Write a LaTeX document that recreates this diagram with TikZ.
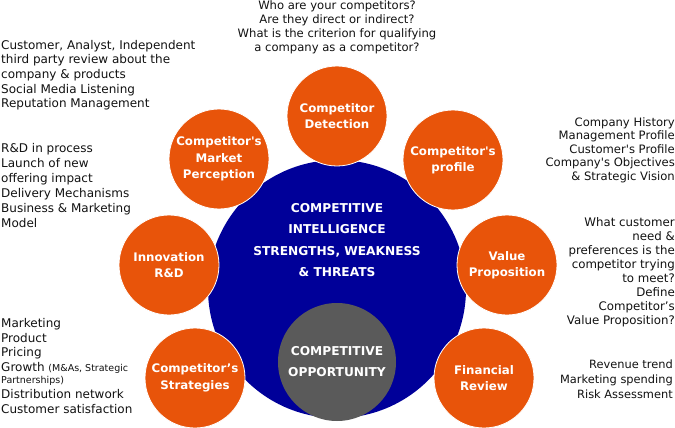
\documentclass[tikz,border=0pt]{standalone}
\usepackage{fontspec}
\setmainfont{DejaVu Sans}[Ligatures=TeXOff]
\definecolor{corange}{HTML}{E8540A}
\definecolor{cblue}{HTML}{000099}
\definecolor{cgray}{HTML}{5A5A5A}
\definecolor{ctext}{HTML}{111111}
\begin{document}
\begin{tikzpicture}[x=1pt,y=-1pt,
  orb/.style={circle, fill=corange, draw=white, line width=0.8pt, minimum size=100pt, inner sep=0pt,
    text=white, font=\bfseries\fontsize{11.8}{16.5}\selectfont, align=center},
  corelabel/.style={inner sep=0pt, text=white, font=\bfseries\fontsize{12.2}{21.5}\selectfont, align=center},
  sidel/.style={inner sep=0pt, text=ctext, font=\fontsize{12}{14.6}\selectfont, align=left, anchor=north west},
  sider/.style={inner sep=0pt, text=ctext, font=\fontsize{11.6}{13.6}\selectfont, align=right, anchor=north east},
  sidec/.style={inner sep=0pt, text=ctext, font=\fontsize{11.6}{14}\selectfont, align=center}]
\useasboundingbox (0,0) rectangle (675,428);
% central circle
\node[circle, fill=cblue, minimum size=258pt, inner sep=0pt] (core) at (337,289) {};
\node[corelabel] (coretext) at (337,240) {COMPETITIVE\\INTELLIGENCE\\STRENGTHS, WEAKNESS\\\& THREATS};
% orange circles
\node[orb] (det) at (337,116) {Competitor\\Detection};
\node[orb] (mkt) at (219,159) {Competitor's\\Market\\Perception};
\node[orb] (prof) at (453,160) {Competitor's\\profile};
\node[orb] (innov) at (169,265) {Innovation\\R\&D};
\node[orb] (val) at (507,265) {Value\\Proposition};
\node[orb] (strat) at (195,378) {Competitor’s\\Strategies};
\node[orb] (fin) at (484,378) {Financial\\Review};
% opportunity
\node[circle, fill=cgray, minimum size=118pt, inner sep=0pt] (opp) at (337,362) {};
\node[corelabel, font=\bfseries\fontsize{12.2}{21}\selectfont] (opptext) at (337,362) {COMPETITIVE\\OPPORTUNITY};
% side texts
\node[sidec] (tdet) at (337,27.5) {Who are your competitors?\\Are they direct or indirect?\\What is the criterion for qualifying\\a company as a competitor?};
\node[sidel] (tmkt) at (1,40) {Customer, Analyst, Independent\\third party review about the\\company \& products\\Social Media Listening\\Reputation Management};
\node[sidel, font=\fontsize{12}{15}\selectfont] (tinnov) at (1,143) {R\&D in process\\Launch of new\\offering impact\\Delivery Mechanisms\\Business \& Marketing\\Model};
\node[sidel, font=\fontsize{12}{14.8}\selectfont] (tstrat) at (1,318) {Marketing\\Product\\Pricing\\Growth {\fontsize{9.5}{11}\selectfont (M\&As, Strategic}\\[-3pt]{\fontsize{9.5}{11}\selectfont Partnerships)}\\Distribution network\\Customer satisfaction};
\node[sider] (tprof) at (675,117) {Company History\\Management Profile\\Customer's Profile\\Company's Objectives\\\& Strategic Vision};
\node[sider, font=\fontsize{11.8}{14.1}\selectfont] (tval) at (675,217) {What customer\\need \&\\preferences is the\\competitor trying\\to meet?\\Define\\Competitor’s\\Value Proposition?};
\node[sider, font=\fontsize{11.4}{15}\selectfont] (tfin) at (673,360) {Revenue trend\\Marketing spending\\Risk Assessment};
\end{tikzpicture}
\end{document}
